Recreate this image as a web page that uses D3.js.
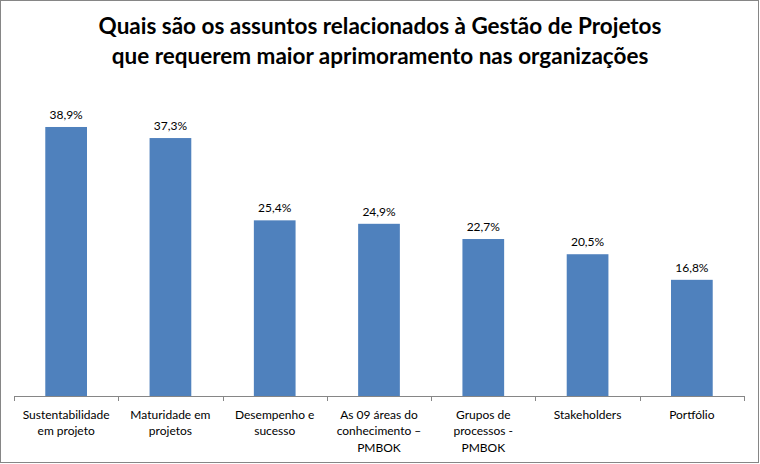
<!DOCTYPE html>
<html><head><meta charset="utf-8">
<script src="https://cdn.jsdelivr.net/npm/d3@7"></script>
<style>body{margin:0;background:#fff}svg{display:block}</style>
</head><body>
<script>
const categories = [
  ["Sustentabilidade","em projeto"],
  ["Maturidade em","projetos"],
  ["Desempenho e","sucesso"],
  ["As 09 áreas do","conhecimento –","PMBOK"],
  ["Grupos de","processos -","PMBOK"],
  ["Stakeholders"],
  ["Portfólio"]
];
const values = [38.9, 37.3, 25.4, 24.9, 22.7, 20.5, 16.8];
const valueLabels = ["38,9%","37,3%","25,4%","24,9%","22,7%","20,5%","16,8%"];
const titleLines = ["Quais são os assuntos relacionados à Gestão de Projetos","que requerem maior aprimoramento nas organizações"];

const W = 760, H = 464;
const svg = d3.select("body").append("svg").attr("width", W).attr("height", H);
svg.append("rect").attr("x",0.5).attr("y",0.5).attr("width",758).attr("height",462)
  .attr("fill","#fff").attr("stroke","#868686").attr("stroke-width",1);

const font = "Lato, 'Open Sans', sans-serif";
svg.selectAll("text.title").data(titleLines).enter().append("text")
  .attr("class","title").attr("x",380).attr("y",(d,i)=>34+i*30)
  .attr("text-anchor","middle").attr("font-family",font).attr("font-weight","bold")
  .attr("font-size",22.5).attr("fill","#000").text(d=>d);

const idx = d3.range(values.length);
const x = d3.scaleBand().domain(idx).range([14,744]).paddingInner(0.6).paddingOuter(0.3);
const y = d3.scaleLinear().domain([0,45]).range([396,84.8]);

svg.selectAll("rect.bar").data(idx).enter().append("rect").attr("class","bar")
  .attr("x",i=>x(i)).attr("width",x.bandwidth())
  .attr("y",i=>y(values[i])).attr("height",i=>y(0)-y(values[i]))
  .attr("fill","#4F81BD");

svg.selectAll("text.val").data(idx).enter().append("text").attr("class","val")
  .attr("x",i=>x(i)+x.bandwidth()/2).attr("y",i=>y(values[i])-8)
  .attr("text-anchor","middle").attr("font-family",font).attr("font-size",12)
  .attr("fill","#000").text(i=>valueLabels[i]);

const axisG = svg.append("g");
axisG.append("line").attr("x1",14).attr("x2",744).attr("y1",396.5).attr("y2",396.5)
  .attr("stroke","#868686");
const step = x.step();
const ticks = d3.range(values.length+1).map(k=>14+k*step);
axisG.selectAll("line.t").data(ticks).enter().append("line").attr("class","t")
  .attr("x1",d=>Math.round(d)+0.5).attr("x2",d=>Math.round(d)+0.5)
  .attr("y1",396).attr("y2",401).attr("stroke","#868686");

const lab = svg.selectAll("text.cat").data(idx).enter().append("text").attr("class","cat")
  .attr("text-anchor","middle").attr("font-family",font).attr("font-size",12).attr("fill","#000");
lab.each(function(i){
  const t = d3.select(this);
  categories[i].forEach((ln,j)=>{
    t.append("tspan").attr("x",x(i)+x.bandwidth()/2).attr("y",418.5+j*16.5).text(ln);
  });
});
</script>
</body></html>
